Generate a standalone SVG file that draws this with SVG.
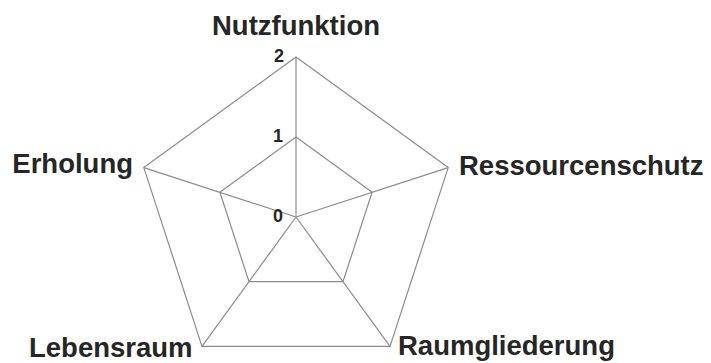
<svg xmlns="http://www.w3.org/2000/svg" width="711" height="363" viewBox="0 0 711 363">
<style>
.grid{fill:none;stroke:#8c8c8c;stroke-width:1.2;stroke-linejoin:miter}
.lbl{font-family:"Liberation Sans",Arial,sans-serif;font-weight:bold;font-size:27.5px;fill:#262626}
.num{font-family:"Liberation Sans",Arial,sans-serif;font-weight:bold;font-size:18px;fill:#262626;text-anchor:end}
</style>
<rect width="711" height="363" fill="#ffffff"/>
<g id="grid">
<polygon class="grid" points="296,57 448.2,167.6 390,346.4 202,346.4 143.8,167.6"/>
<polygon class="grid" points="296,137 372.1,192.3 343,281.7 249,281.7 219.9,192.3"/>
</g>
<g id="spokes">
<line class="grid" x1="296" y1="217" x2="296" y2="57"/>
<line class="grid" x1="296" y1="217" x2="448.2" y2="167.6"/>
<line class="grid" x1="296" y1="217" x2="390" y2="346.4"/>
<line class="grid" x1="296" y1="217" x2="202" y2="346.4"/>
<line class="grid" x1="296" y1="217" x2="143.8" y2="167.6"/>
</g>
<g id="scale">
<text class="num" x="284" y="62">2</text>
<text class="num" x="283" y="142">1</text>
<text class="num" x="283" y="222">0</text>
</g>
<g id="nutzfunktion"><text class="lbl" x="296" y="35" text-anchor="middle">Nutzfunktion</text></g>
<g id="ressourcenschutz"><text class="lbl" x="459" y="175">Ressourcenschutz</text></g>
<g id="raumgliederung"><text class="lbl" x="398" y="355">Raumgliederung</text></g>
<g id="lebensraum"><text class="lbl" x="29" y="357">Lebensraum</text></g>
<g id="erholung"><text class="lbl" x="133" y="173" text-anchor="end">Erholung</text></g>
</svg>
